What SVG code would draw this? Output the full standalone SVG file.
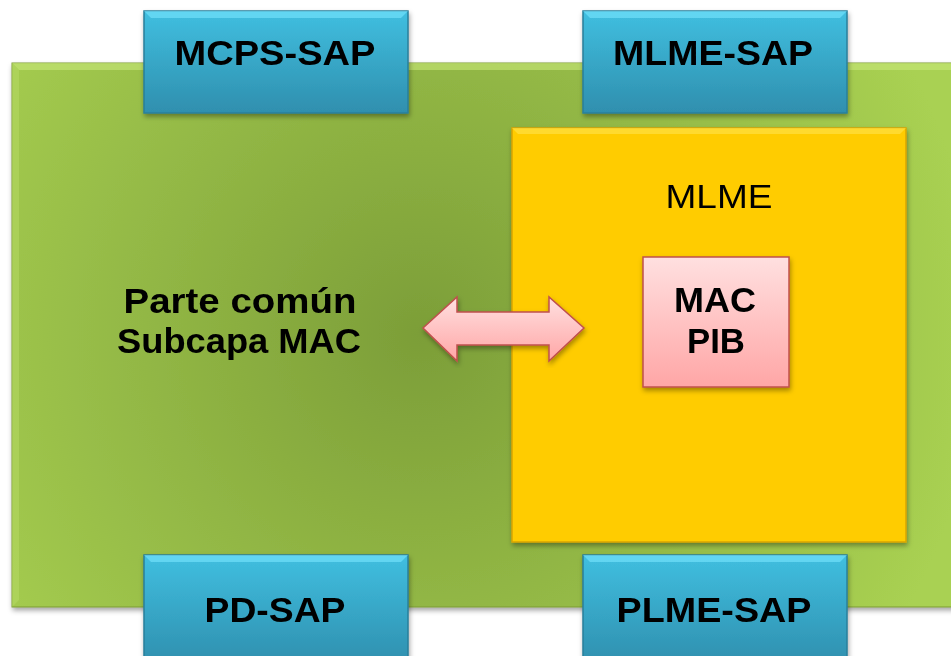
<svg xmlns="http://www.w3.org/2000/svg" width="951" height="656" viewBox="0 0 951 656">
<style>
.t{font-family:"Liberation Sans",Arial,sans-serif;font-size:34px;fill:#000;text-anchor:middle}
.b{font-weight:bold;font-size:35px}
.sap{fill:url(#blue);stroke:#2a7f9b;stroke-width:1.5}
</style>
<defs>
<radialGradient id="green" cx="420" cy="335" r="560" gradientUnits="userSpaceOnUse">
<stop offset="0" stop-color="#7c9e38"/>
<stop offset="1" stop-color="#a9d152"/>
</radialGradient>
<linearGradient id="blue" x1="0" y1="0" x2="0" y2="1">
<stop offset="0" stop-color="#40bfe0"/>
<stop offset="1" stop-color="#2f8fae"/>
</linearGradient>
<linearGradient id="pink" x1="0" y1="0" x2="0" y2="1">
<stop offset="0" stop-color="#ffe0e0"/>
<stop offset="1" stop-color="#ffa6a6"/>
</linearGradient>
<filter id="sh" x="-10%" y="-10%" width="120%" height="120%">
<feDropShadow dx="1" dy="3" stdDeviation="2.5" flood-color="#000" flood-opacity="0.35"/>
</filter>
</defs>
<rect width="951" height="656" fill="#fff"/>
<g id="mac-sublayer" filter="url(#sh)">
<rect x="12" y="63" width="950" height="544" fill="url(#green)" stroke="#7a9a35" stroke-width="1"/>
<path d="M12 63 L962 63 L955 70 L19 70 Z" fill="#c8e87a" opacity="0.6"/>
<path d="M12 63 L19 70 L19 600 L12 607 Z" fill="#b8dc66" opacity="0.5"/>
<text class="t b" x="240" y="313" textLength="233" lengthAdjust="spacingAndGlyphs">Parte común</text>
<text class="t b" x="239" y="353" textLength="244" lengthAdjust="spacingAndGlyphs">Subcapa MAC</text>
</g>
<g id="mlme" filter="url(#sh)">
<rect x="512" y="128" width="394" height="414" fill="#ffcc00" stroke="#d9a400" stroke-width="1.5"/>
<path d="M512 128 L906 128 L900 134 L518 134 Z" fill="#ffe040" opacity="0.7"/>
<text class="t" x="719" y="208" textLength="107" lengthAdjust="spacingAndGlyphs">MLME</text>
</g>
<g id="mac-pib" filter="url(#sh)">
<rect x="643" y="257" width="146" height="130" fill="url(#pink)" stroke="#c0504d" stroke-width="1.5"/>
<text class="t b" x="715" y="312" textLength="82" lengthAdjust="spacingAndGlyphs">MAC</text>
<text class="t b" x="716" y="353" textLength="58" lengthAdjust="spacingAndGlyphs">PIB</text>
</g>
<g id="mcps-sap" filter="url(#sh)">
<rect class="sap" x="144" y="11" width="264" height="102"/>
<path d="M144 11 L408 11 L401 18 L151 18 Z" fill="#7ae6ff" opacity="0.6"/>
<text class="t b" x="275" y="65" textLength="201" lengthAdjust="spacingAndGlyphs">MCPS-SAP</text>
</g>
<g id="mlme-sap" filter="url(#sh)">
<rect class="sap" x="583" y="11" width="264" height="102"/>
<path d="M583 11 L847 11 L840 18 L590 18 Z" fill="#7ae6ff" opacity="0.6"/>
<text class="t b" x="713" y="65" textLength="200" lengthAdjust="spacingAndGlyphs">MLME-SAP</text>
</g>
<g id="pd-sap" filter="url(#sh)">
<rect class="sap" x="144" y="555" width="264" height="110"/>
<path d="M144 555 L408 555 L401 562 L151 562 Z" fill="#7ae6ff" opacity="0.6"/>
<text class="t b" x="275" y="622" textLength="141" lengthAdjust="spacingAndGlyphs">PD-SAP</text>
</g>
<g id="plme-sap" filter="url(#sh)">
<rect class="sap" x="583" y="555" width="264" height="110"/>
<path d="M583 555 L847 555 L840 562 L590 562 Z" fill="#7ae6ff" opacity="0.6"/>
<text class="t b" x="714" y="622" textLength="195" lengthAdjust="spacingAndGlyphs">PLME-SAP</text>
</g>
<g id="connectors" filter="url(#sh)">
<path d="M423 328 L457 297 L457 312 L549 312 L549 297 L584 328 L549 361 L549 345 L457 345 L457 361 Z" fill="url(#pink)" stroke="#c0504d" stroke-width="1.5" stroke-linejoin="miter"/>
</g>
</svg>
